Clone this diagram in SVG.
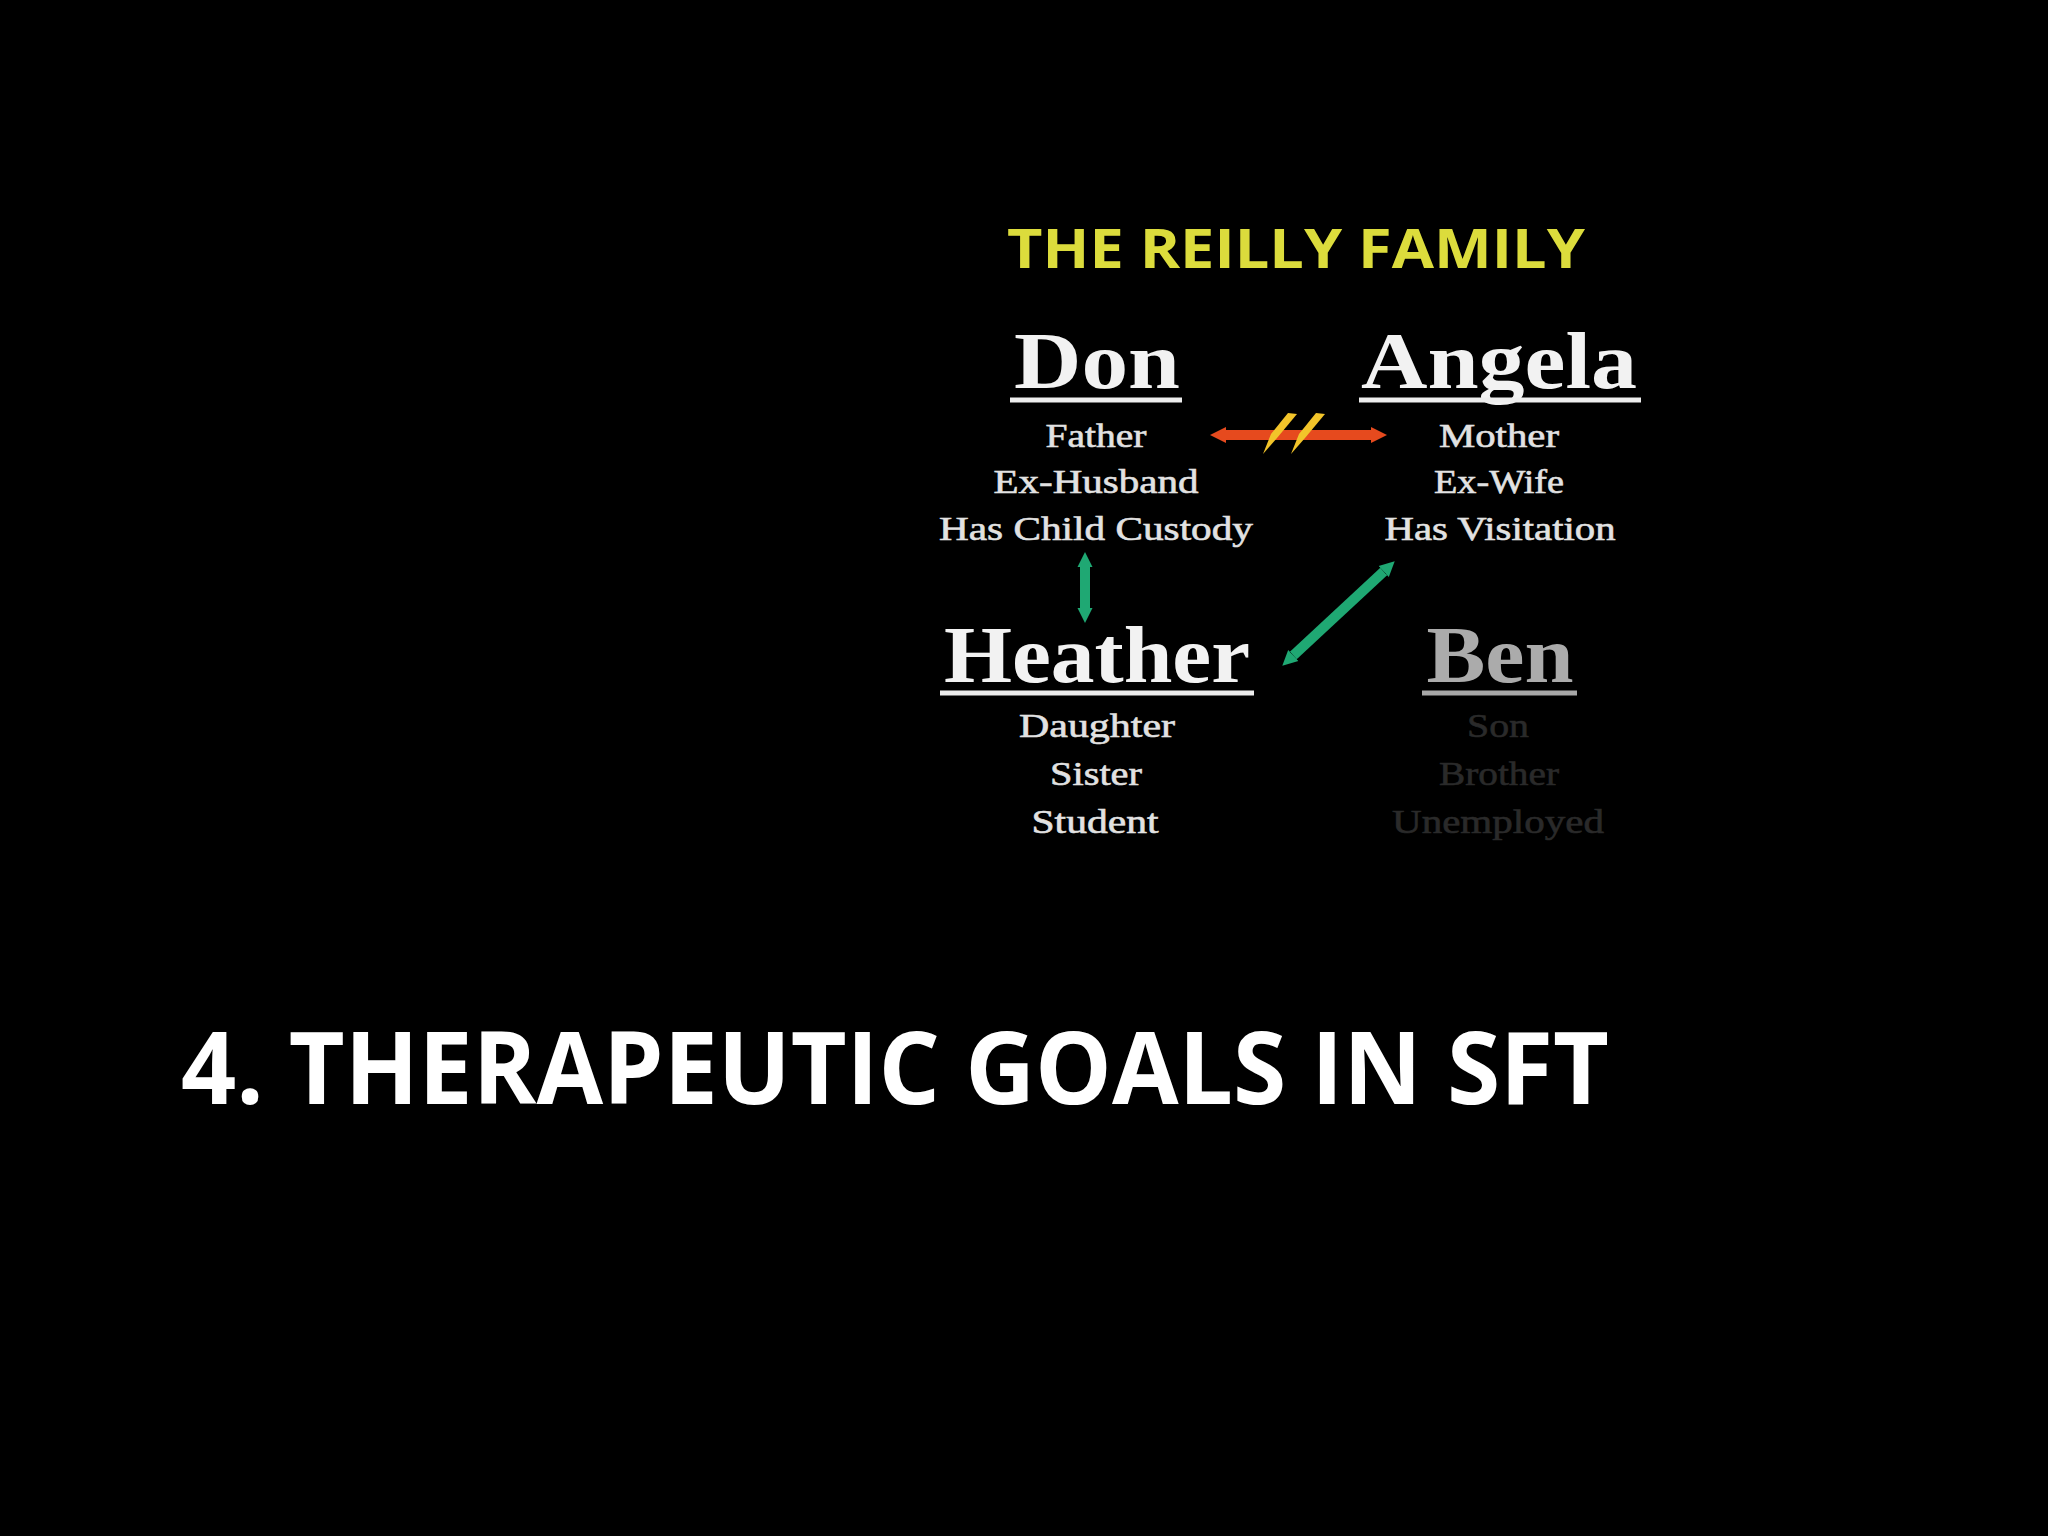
<svg xmlns="http://www.w3.org/2000/svg" width="2048" height="1536" viewBox="0 0 2048 1536">
<defs>
<style>
.bg{fill:#000}
.title{font-family:"Open Sans","Liberation Sans",sans-serif;font-weight:700;fill:#dcdc3c;font-size:54px}
.main{font-family:"Open Sans","Liberation Sans",sans-serif;font-weight:700;fill:#fff;font-size:100px}
.name{font-family:"Liberation Serif","DejaVu Serif",serif;font-weight:700;fill:#f2f2f2;font-size:80px;text-anchor:middle}
.sub{font-family:"Liberation Serif","DejaVu Serif",serif;fill:#e2e2e2;font-size:34px;text-anchor:middle;stroke:#e2e2e2;stroke-width:0.6}
.ul{stroke:#ededed;stroke-width:5}
.red{stroke:#e64a1e;stroke-width:10;fill:none}
.green{stroke:#1fa873;stroke-width:10;fill:none}
.slash{fill:#f2c42a}
</style>
<marker id="redHead" viewBox="0 0 10 10" refX="0" refY="5" markerUnits="userSpaceOnUse" markerWidth="16" markerHeight="20" orient="auto-start-reverse">
<path d="M0,0 L10,5 L0,10 z" fill="#e64a1e"/>
</marker>
<marker id="greenHead" viewBox="0 0 10 10" refX="0" refY="5" markerUnits="userSpaceOnUse" markerWidth="15" markerHeight="21" orient="auto-start-reverse">
<path d="M0,0 L10,5 L0,10 z" fill="#1fa873"/>
</marker>
</defs>
<rect class="bg" x="0" y="0" width="2048" height="1536"/>

<text class="title" x="1007" y="268" textLength="578" lengthAdjust="spacingAndGlyphs">THE REILLY FAMILY</text>

<g id="don">
<text class="name" x="1097" y="388" textLength="166" lengthAdjust="spacingAndGlyphs">Don</text>
<line class="ul" x1="1010" y1="400" x2="1182" y2="400"/>
<text class="sub" x="1096" y="447" textLength="101" lengthAdjust="spacingAndGlyphs">Father</text>
<text class="sub" x="1096" y="493" textLength="205" lengthAdjust="spacingAndGlyphs">Ex-Husband</text>
<text class="sub" x="1096" y="540" textLength="314" lengthAdjust="spacingAndGlyphs">Has Child Custody</text>
</g>

<g id="angela">
<text class="name" x="1499" y="388" textLength="276" lengthAdjust="spacingAndGlyphs">Angela</text>
<line class="ul" x1="1359" y1="400" x2="1641" y2="400"/>
<text class="sub" x="1499" y="447" textLength="120" lengthAdjust="spacingAndGlyphs">Mother</text>
<text class="sub" x="1499" y="493" textLength="130" lengthAdjust="spacingAndGlyphs">Ex-Wife</text>
<text class="sub" x="1500" y="540" textLength="231" lengthAdjust="spacingAndGlyphs">Has Visitation</text>
</g>

<g id="heather">
<text class="name" x="1097" y="682" textLength="306" lengthAdjust="spacingAndGlyphs">Heather</text>
<line class="ul" x1="940" y1="693" x2="1254" y2="693"/>
<text class="sub" x="1097" y="737" textLength="156" lengthAdjust="spacingAndGlyphs">Daughter</text>
<text class="sub" x="1096" y="785" textLength="92" lengthAdjust="spacingAndGlyphs">Sister</text>
<text class="sub" x="1095" y="833" textLength="127" lengthAdjust="spacingAndGlyphs">Student</text>
</g>

<g id="ben">
<text class="name" x="1500" y="682" textLength="147" lengthAdjust="spacingAndGlyphs" style="fill:#ababab">Ben</text>
<line class="ul" x1="1422" y1="693" x2="1577" y2="693" style="stroke:#a8a8a8"/>
<text class="sub" x="1498" y="737" textLength="62" lengthAdjust="spacingAndGlyphs" style="fill:#2a2a2a;stroke:#2a2a2a">Son</text>
<text class="sub" x="1499" y="785" textLength="120" lengthAdjust="spacingAndGlyphs" style="fill:#2a2a2a;stroke:#2a2a2a">Brother</text>
<text class="sub" x="1498" y="833" textLength="212" lengthAdjust="spacingAndGlyphs" style="fill:#2a2a2a;stroke:#2a2a2a">Unemployed</text>
</g>

<g id="connectors">
<line class="red" x1="1226" y1="435" x2="1371" y2="435" marker-start="url(#redHead)" marker-end="url(#redHead)"/>
<path class="slash" d="M1288,413 L1297,414 L1277,438 L1263,454 L1271,434 z"/>
<path class="slash" d="M1316,413 L1325,414 L1305,438 L1291,454 L1299,434 z"/>
<line class="green" x1="1085" y1="567" x2="1085" y2="608" marker-start="url(#greenHead)" marker-end="url(#greenHead)"/>
<line class="green" x1="1293.3" y1="655.5" x2="1383.7" y2="571.5" marker-start="url(#greenHead)" marker-end="url(#greenHead)"/>
</g>

<text class="main" x="181" y="1104" textLength="1428" lengthAdjust="spacingAndGlyphs">4. THERAPEUTIC GOALS IN SFT</text>
</svg>
